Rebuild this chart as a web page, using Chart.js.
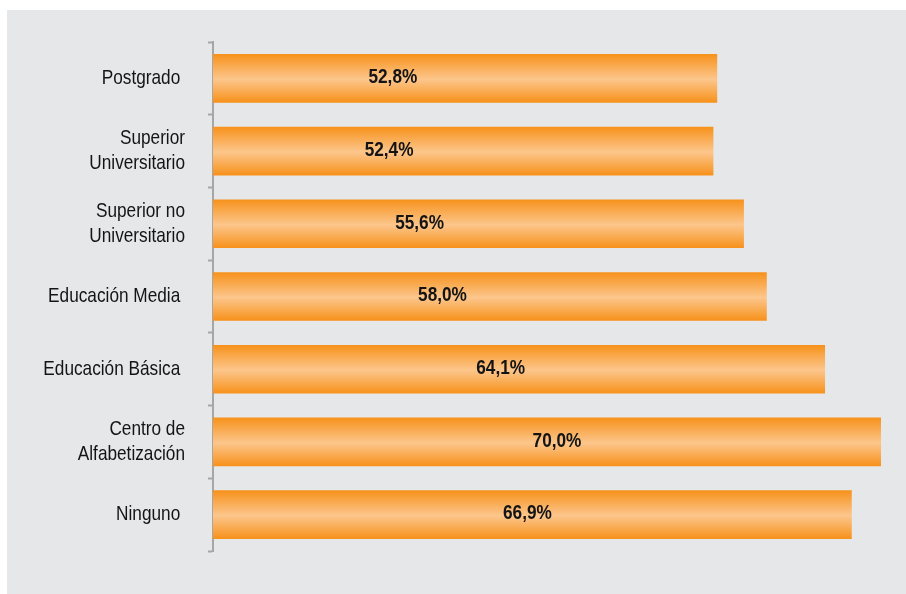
<!DOCTYPE html>
<html>
<head>
<meta charset="utf-8">
<script src="https://cdn.jsdelivr.net/npm/chart.js@4/dist/chart.umd.min.js"></script>
<style>
    html, body { margin: 0; padding: 0; background: #ffffff; }
    #panel { position: absolute; left: 7px; top: 10px; width: 899px; height: 584px; background: #e6e7e8; }
    #nivel_chart { display: block; }
</style>
</head>
<body>
<div id="panel"><canvas id="nivel_chart" width="899" height="584"></canvas></div>
<script>
    "use strict"

    // categories (top to bottom) and values in %
    const categorias = [
        "Postgrado ",
        ["Superior", "Universitario"],
        ["Superior no", "Universitario"],
        "Educación Media ",
        "Educación Básica ",
        ["Centro de", "Alfabetización"],
        "Ninguno "
    ];
    const valores = [52.8, 52.4, 55.6, 58.0, 64.1, 70.0, 66.9];
    const etiquetas = ["52,8%", "52,4%", "55,6%", "58,0%", "64,1%", "70,0%", "66,9%"];

    const fuente = "'Liberation Sans', Arial, sans-serif";
    const estrecho = 0.82;   // no narrow font installed, so squeeze the text

    // vertical orange gradient for each bar
    var barGradient = function(ctx){
        const chart = ctx.chart;
        const scale = chart.scales.y;
        if(!scale || ctx.dataIndex === undefined){
            return '#f7931e';
        }
        const yc = scale.getPixelForValue(ctx.dataIndex);
        if(!Number.isFinite(yc)){
            return '#f7931e';
        }
        const half = 24;
        const g = chart.ctx.createLinearGradient(0, yc - half, 0, yc + half);
        g.addColorStop(0, '#f7921c');
        g.addColorStop(0.52, '#fcc68c');
        g.addColorStop(1, '#f7921c');
        return g;
    }

    var textoEstrecho = function(ctx, text, x, y){
        ctx.save();
        ctx.translate(x, y);
        ctx.scale(estrecho, 1);
        ctx.fillText(text, 0, 0);
        ctx.restore();
    }

    // category labels of the y scale, drawn condensed at the scale's tick positions
    const categoryLabels = {
        id: 'categoryLabels',
        afterDraw: function(chart){
            const ctx = chart.ctx;
            const scale = chart.scales.y;
            const x = chart.chartArea.left - 5 - 23;
            ctx.save();
            ctx.font = "21px " + fuente;
            ctx.fillStyle = '#141414';
            ctx.textAlign = 'right';
            ctx.textBaseline = 'middle';
            categorias.forEach(function(label, i){
                const lines = Array.isArray(label) ? label : [label];
                const y = scale.getPixelForTick(i);
                const lh = 25;
                lines.forEach(function(line, j){
                    textoEstrecho(ctx, line, x, y + (j - (lines.length - 1) / 2) * lh);
                });
            });
            ctx.restore();
        }
    };

    // value labels, placed a fixed distance back from the end of each bar
    const valueLabels = {
        id: 'valueLabels',
        afterDatasetsDraw: function(chart){
            const ctx = chart.ctx;
            const meta = chart.getDatasetMeta(0);
            ctx.save();
            ctx.font = "bold 21px " + fuente;
            ctx.fillStyle = '#141414';
            ctx.textAlign = 'center';
            ctx.textBaseline = 'middle';
            meta.data.forEach(function(bar, i){
                textoEstrecho(ctx, etiquetas[i], bar.x - 324, bar.y - 1);
            });
            ctx.restore();
        }
    };

    const nivel_chart = document.getElementById("nivel_chart").getContext('2d');
    new Chart(nivel_chart, {
        type: 'bar',
        data: {
            labels: categorias,
            datasets: [{
                data: valores,
                backgroundColor: barGradient,
                borderWidth: 0,
                barThickness: 48
            }]
        },
        options: {
            indexAxis: 'y',
            responsive: false,
            animation: false,
            layout: { padding: { top: 32, right: 25, bottom: 43, left: 0 } },
            plugins: {
                legend: { display: false },
                tooltip: { enabled: false }
            },
            scales: {
                x: {
                    display: false,
                    min: 0,
                    max: 70
                },
                y: {
                    afterFit: function(scale){ scale.width = 206; },
                    grid: {
                        display: true,
                        drawOnChartArea: false,
                        offset: true,
                        tickLength: 5,
                        tickWidth: 2,
                        tickColor: '#a6a6a6'
                    },
                    border: { display: true, color: '#a6a6a6', width: 2 },
                    ticks: { display: false }
                }
            }
        },
        plugins: [valueLabels, categoryLabels]
    });
</script>
</body>
</html>
